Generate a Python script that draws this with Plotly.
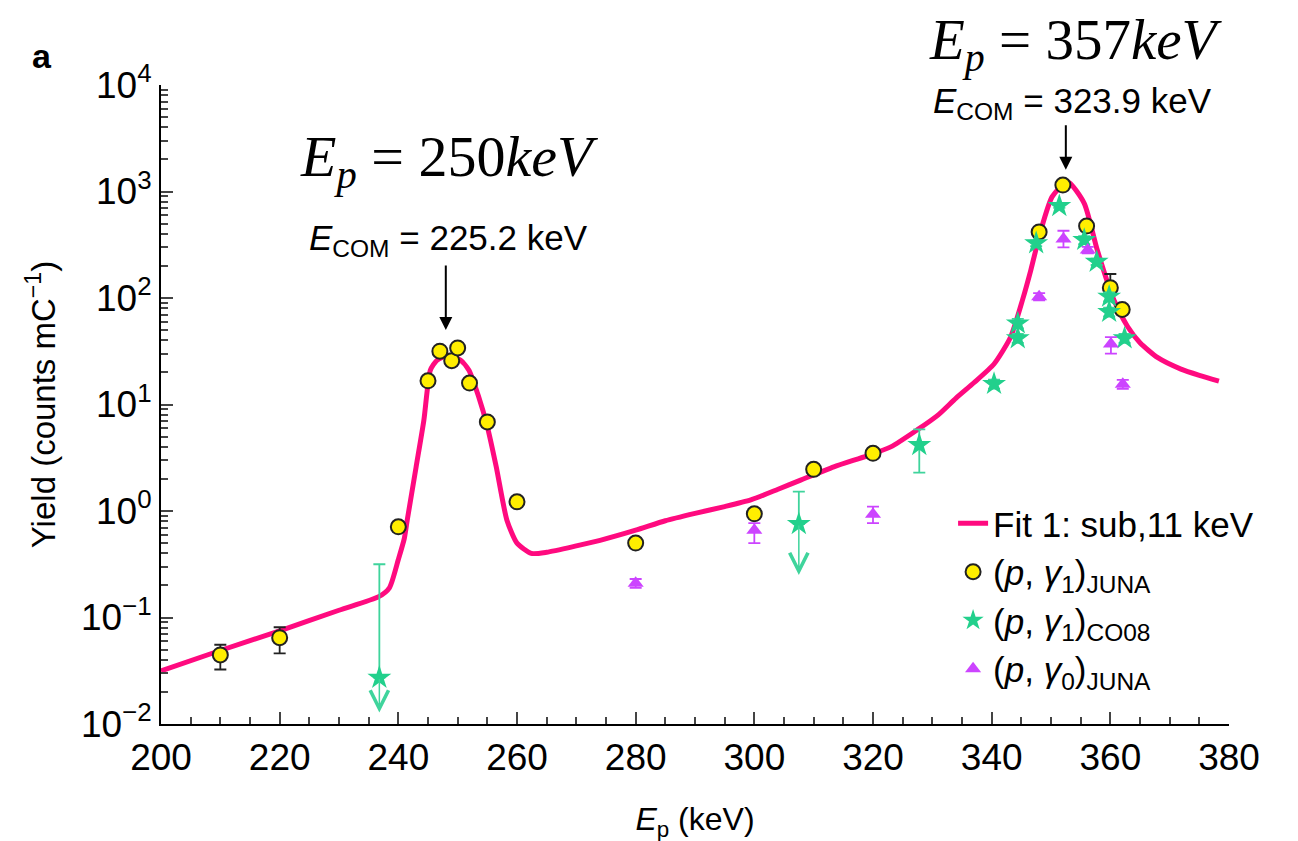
import numpy as np
import plotly.graph_objects as go

# ---------------- data ----------------
fit_E = [200, 210, 220, 230, 236.7, 238.5, 240, 241, 241.5, 243, 244.3, 245.4, 246.5, 248.5,
         250.5, 251.9, 253.5, 255, 256.5, 258.3, 260, 262.4, 265, 270, 274, 280, 285, 290, 295,
         299.4, 304, 307.8, 313.4, 319, 323, 327.5, 331, 334, 337, 340.4, 343.2, 345.2, 346.6,
         348.3, 350.2, 352.8, 355.6, 357.8, 360.6, 362.9, 365, 368, 371.9, 375, 378.3]
fit_Y = [0.0315, 0.049, 0.075, 0.117, 0.157, 0.19, 0.35, 0.55, 0.82, 2.6, 7.1, 21, 26, 29,
         26, 21, 12, 6.2, 2.6, 0.82, 0.5, 0.40, 0.41, 0.47, 0.53, 0.66, 0.81, 0.95, 1.1,
         1.27, 1.6, 1.95, 2.6, 3.3, 4.0, 5.8, 8.0, 11.5, 16, 24, 43, 96, 183,
         434, 894, 1236, 775, 282, 96, 54, 38, 27.5, 21.5, 18.8, 16.6]

juna1_E = [210, 220, 240, 245, 247, 249, 250, 252, 255, 260, 280, 300, 310, 320, 348, 352, 356, 360, 362]
juna1_Y = [0.0445, 0.0646, 0.71, 16.7, 31.7, 25.8, 34.0, 15.9, 6.86, 1.22, 0.50, 0.94, 2.46, 3.48,
           417, 1150, 474, 125, 78]
juna1_up = [0.011, 0.0164, 0, 0, 0, 0, 0, 0, 0, 0, 0, 0.06, 0, 0, 0, 60, 0, 43, 0]
juna1_dn = [0.012, 0.0186, 0, 0, 0, 0, 0, 0, 0, 0, 0, 0.06, 0, 0, 0, 100, 0, 10, 0]

co08_E = [236.8, 307.5, 327.8, 340.4, 344.4, 344.4, 347.5, 351.4, 355.6, 357.7, 359.8, 359.8, 362.4]
co08_Y = [0.0272, 0.755, 4.17, 15.6, 57.8, 41.9, 327, 731, 351, 219, 103, 74, 41.9]
co08_up = [0.289, 0.765, 1.68, 1.5, 6, 4, 20, 30, 30, 15, 10, 7, 4]
co08_dn = [0, 0, 1.88, 1.5, 6, 4, 20, 30, 30, 15, 10, 7, 4]
# upper-limit arrows (energy, from value, tip value)
lim_E = [236.8, 307.5]
lim_from = [0.0272, 0.755]
lim_tip = [0.0128, 0.25]

juna0_E = [280, 300, 320, 348, 352.1, 356.2, 360.1, 362.1]
juna0_Y = [0.21, 0.66, 0.93, 103, 358, 282, 37, 15.5]
juna0_up = [0.02, 0.11, 0.17, 8, 70, 20, 6, 1.5]
juna0_dn = [0.02, 0.16, 0.16, 8, 59, 20, 7, 1.5]

y_tickvals = [1e-2, 1e-1, 1e0, 1e1, 1e2, 1e3, 1e4]
y_ticktext = ["10<sup>\u22122</sup>", "10<sup>\u22121</sup>", "10<sup>0</sup>", "10<sup>1</sup>",
              "10<sup>2</sup>", "10<sup>3</sup>", "10<sup>4</sup>"]
x_tickvals = [200, 220, 240, 260, 280, 300, 320, 340, 360, 380]

# ---------------- style ----------------
PINK = "#ff0a7f"
YEL = "#ffee00"
GRN = "#22d08c"
GRN_E = "#3fd49c"
PUR = "#cc44ff"
SANS = "Liberation Sans, Arial, sans-serif"
SERIF = "Liberation Serif, Times New Roman, serif"

# page body has an 8px default margin; compensate so the plot area lands at
# x 160.7..1229, y 85..724 of the photographed window
OFF = 8
L, T, PW, PH = 161 - OFF, 85 - OFF, 1068, 639
W, H = 1298, 841

fig = go.Figure()

fig.add_trace(go.Scatter(
    x=fit_E, y=fit_Y, mode="lines", name="Fit 1: sub,11 keV",
    line=dict(color=PINK, width=5, shape="spline", smoothing=0.6)))

fig.add_trace(go.Scatter(
    x=juna1_E, y=juna1_Y, mode="markers",
    name="(<i>p</i>, <i>\u03b3</i><sub>1</sub>)<sub>JUNA</sub>",
    marker=dict(symbol="circle", size=15, color=YEL, line=dict(color="#222222", width=2)),
    error_y=dict(type="data", symmetric=False, array=juna1_up, arrayminus=juna1_dn,
                 color="#222222", thickness=1.8, width=6)))

fig.add_trace(go.Scatter(
    x=co08_E, y=co08_Y, mode="markers",
    name="(<i>p</i>, <i>\u03b3</i><sub>1</sub>)<sub>CO08</sub>",
    marker=dict(symbol="star", size=18, color=GRN, line=dict(width=0)),
    error_y=dict(type="data", symmetric=False, array=co08_up, arrayminus=co08_dn,
                 color=GRN_E, thickness=1.8, width=6)))

fig.add_trace(go.Scatter(
    x=juna0_E, y=juna0_Y, mode="markers",
    name="(<i>p</i>, <i>\u03b3</i><sub>0</sub>)<sub>JUNA</sub>",
    marker=dict(symbol="triangle-up", size=14, color=PUR, line=dict(width=0)),
    error_y=dict(type="data", symmetric=False, array=juna0_up, arrayminus=juna0_dn,
                 color=PUR, thickness=1.8, width=6)))

annotations = []
# upper-limit arrows
for e, f, t in zip(lim_E, lim_from, lim_tip):
    annotations.append(dict(x=e, y=np.log10(t), ax=e, ay=np.log10(f), xref="x", yref="y",
                            axref="x", ayref="y", text="", showarrow=True, arrowhead=5,
                            arrowsize=2.4, arrowwidth=1.5, arrowcolor=GRN_E))

# resonance arrows
annotations.append(dict(x=248, y=np.log10(50), xref="x", yref="y", ax=0, ay=-66, text="",
                        showarrow=True, arrowhead=2, arrowsize=1.3, arrowwidth=2, arrowcolor="black"))
annotations.append(dict(x=352.5, y=np.log10(1600), xref="x", yref="y", ax=0, ay=-46, text="",
                        showarrow=True, arrowhead=2, arrowsize=1.3, arrowwidth=2, arrowcolor="black"))

def py2paper(py):
    return (724 - py) / 639.0

def px2paper(px):
    return (px - 160.7) / 1068.3

annotations.append(dict(x=px2paper(448), y=py2paper(240), xref="paper", yref="paper",
                        text="<i>E</i><sub>COM</sub> = 225.2 keV", showarrow=False,
                        font=dict(family=SANS, size=35, color="black"), xanchor="center", yanchor="middle"))
annotations.append(dict(x=px2paper(1072), y=py2paper(103), xref="paper", yref="paper",
                        text="<i>E</i><sub>COM</sub> = 323.9 keV", showarrow=False,
                        font=dict(family=SANS, size=35, color="black"), xanchor="center", yanchor="middle"))
annotations.append(dict(x=px2paper(449), y=py2paper(160), xref="paper", yref="paper",
                        text="<i>E</i><sub><i>p</i></sub> = 250<i>keV</i>", showarrow=False,
                        font=dict(family=SERIF, size=58, color="black"), xanchor="center", yanchor="middle"))
annotations.append(dict(x=px2paper(1076), y=py2paper(44), xref="paper", yref="paper",
                        text="<i>E</i><sub><i>p</i></sub> = 357<i>keV</i>", showarrow=False,
                        font=dict(family=SERIF, size=57, color="black"), xanchor="center", yanchor="middle"))
annotations.append(dict(x=px2paper(42), y=py2paper(56), xref="paper", yref="paper",
                        text="<b>a</b>", showarrow=False,
                        font=dict(family=SANS, size=34, color="black"), xanchor="center", yanchor="middle"))

fig.update_layout(
    width=W, height=H,
    margin=dict(l=L, r=W - L - PW, t=T, b=H - T - PH, autoexpand=False),
    paper_bgcolor="white", plot_bgcolor="white",
    font=dict(family=SANS, color="black"),
    showlegend=True,
    legend=dict(x=px2paper(953), y=py2paper(494), xanchor="left", yanchor="top",
                bgcolor="rgba(0,0,0,0)",
                font=dict(family=SANS, size=35, color="black"), tracegroupgap=0),
    annotations=annotations,
)

fig.update_xaxes(
    range=[200, 380], tickvals=x_tickvals, ticks="inside", ticklen=12, tickwidth=2,
    showline=True, linecolor="black", linewidth=2, showgrid=False, zeroline=False,
    tickfont=dict(family=SANS, size=37, color="black"),
    minor=dict(dtick=5, ticks="inside", ticklen=7, tickwidth=1.5, showgrid=False),
    title=dict(text="<i>E</i><sub>p</sub> (keV)", font=dict(family=SANS, size=32), standoff=30),
)
fig.update_yaxes(
    type="log", range=[-2, 4], tickvals=y_tickvals, ticktext=y_ticktext,
    ticks="inside", ticklen=12, tickwidth=2,
    showline=True, linecolor="black", linewidth=2, showgrid=False, zeroline=False,
    tickfont=dict(family=SANS, size=37, color="black"),
    minor=dict(dtick="D1", ticks="inside", ticklen=7, tickwidth=1.5, showgrid=False),
    title=dict(text="Yield (counts mC<sup>\u22121</sup>)", font=dict(family=SANS, size=33), standoff=15),
)

fig.write_html("out.html")
